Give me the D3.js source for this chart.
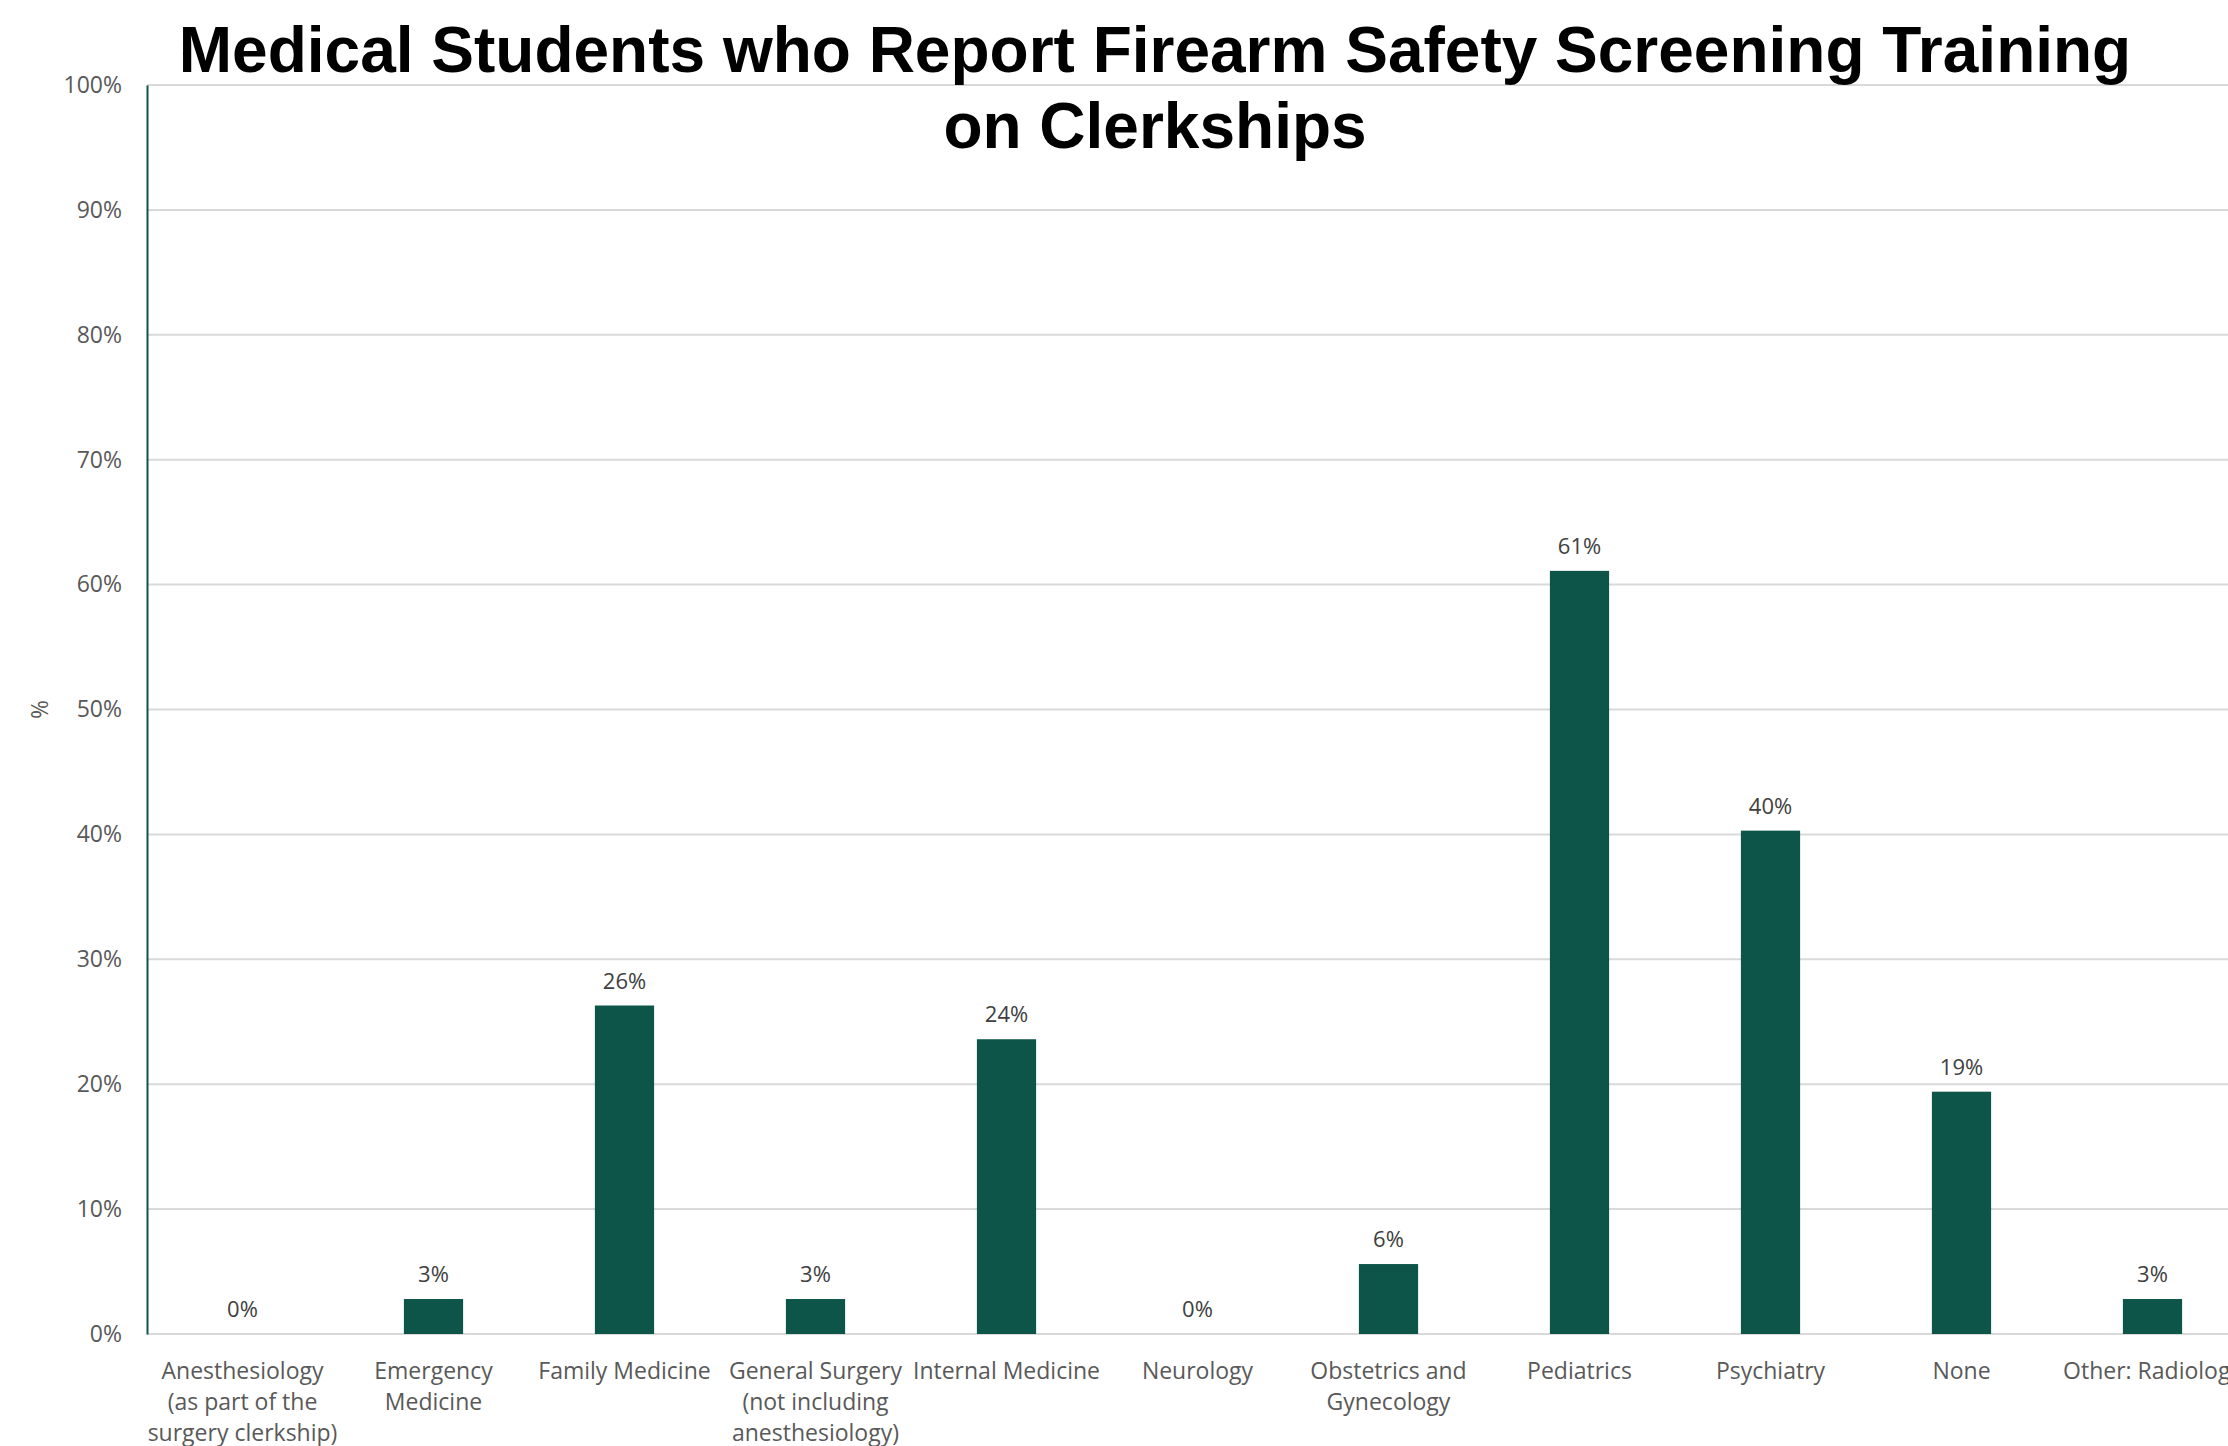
<!DOCTYPE html>
<html>
<head>
<meta charset="utf-8">
<script src="https://cdn.jsdelivr.net/npm/d3@7"></script>
<style>
  html, body { margin: 0; padding: 0; background: #fff; overflow: hidden; }
  svg { display: block; }
</style>
</head>
<body>
<script>
const categories = [
  ["Anesthesiology", "(as part of the", "surgery clerkship)"],
  ["Emergency", "Medicine"],
  ["Family Medicine"],
  ["General Surgery", "(not including", "anesthesiology)"],
  ["Internal Medicine"],
  ["Neurology"],
  ["Obstetrics and", "Gynecology"],
  ["Pediatrics"],
  ["Psychiatry"],
  ["None"],
  ["Other: Radiology"]
];
const values = [0, 2.8, 26.3, 2.8, 23.6, 0, 5.6, 61.1, 40.3, 19.4, 2.8];
const yTicks = [0, 10, 20, 30, 40, 50, 60, 70, 80, 90, 100];
const titleLines = ["Medical Students who Report Firearm Safety Screening Training", "on Clerkships"];
const yAxisTitle = "%";

(function () {
const W = 2228, H = 1446;
const mLeft = 147, mTop = 85, mBottom = 1334;
const svg = d3.select("body").append("svg").attr("width", W).attr("height", H);

const font = "'Segoe UI', 'Open Sans', 'Noto Sans', sans-serif";

const x = d3.scaleBand()
  .domain(d3.range(categories.length))
  .range([mLeft, mLeft + 191 * 11])
  .paddingInner(0.69)
  .paddingOuter(0.345);
const y = d3.scaleLinear().domain([0, 100]).range([mBottom, mTop]);

// gridlines
svg.append("g")
  .selectAll("line").data(yTicks).join("line")
  .attr("x1", mLeft).attr("x2", W)
  .attr("y1", d => y(d)).attr("y2", d => y(d))
  .attr("stroke", "#d9d9d9").attr("stroke-width", 2);

// y axis
const yAxis = svg.append("g")
  .attr("transform", `translate(${mLeft},0)`)
  .call(d3.axisLeft(y).tickValues(yTicks).tickFormat(d => d + "%").tickSize(0).tickPadding(25));
yAxis.select(".domain").attr("stroke", "#0d5449").attr("stroke-width", 2);
yAxis.selectAll("text")
  .attr("font-family", font).attr("font-size", 23).attr("fill", "#595959");

// bars
svg.append("g").selectAll("rect").data(values).join("rect")
  .attr("x", (d, i) => x(i))
  .attr("width", x.bandwidth())
  .attr("y", d => y(d))
  .attr("height", d => y(0) - y(d))
  .attr("fill", "#0d5449");

// data labels
svg.append("g").selectAll("text").data(values).join("text")
  .attr("x", (d, i) => x(i) + x.bandwidth() / 2)
  .attr("y", d => y(d) - 17)
  .attr("text-anchor", "middle")
  .attr("font-family", font).attr("font-size", 22).attr("fill", "#404040")
  .text(d => Math.round(d) + "%");

// category labels
const cat = svg.append("g").selectAll("text").data(categories).join("text")
  .attr("text-anchor", "middle")
  .attr("font-family", font).attr("font-size", 23).attr("fill", "#595959");
cat.each(function(lines, i) {
  const t = d3.select(this);
  lines.forEach((l, j) => {
    t.append("tspan")
      .attr("x", x(i) + x.bandwidth() / 2)
      .attr("y", 1379 + j * 31)
      .text(l);
  });
});

// y axis title
svg.append("text")
  .attr("transform", `translate(48,${y(50)}) rotate(-90)`)
  .attr("text-anchor", "middle")
  .attr("font-family", font).attr("font-size", 23).attr("fill", "#595959")
  .text(yAxisTitle);

// title
svg.append("g").selectAll("text").data(titleLines).join("text")
  .attr("x", 1155)
  .attr("y", (d, i) => 72 + i * 76)
  .attr("text-anchor", "middle")
  .attr("font-family", "'Liberation Sans', Arial, sans-serif")
  .attr("font-weight", "bold").attr("font-size", 64).attr("fill", "#000")
  .text(d => d);
})();
</script>
</body>
</html>
